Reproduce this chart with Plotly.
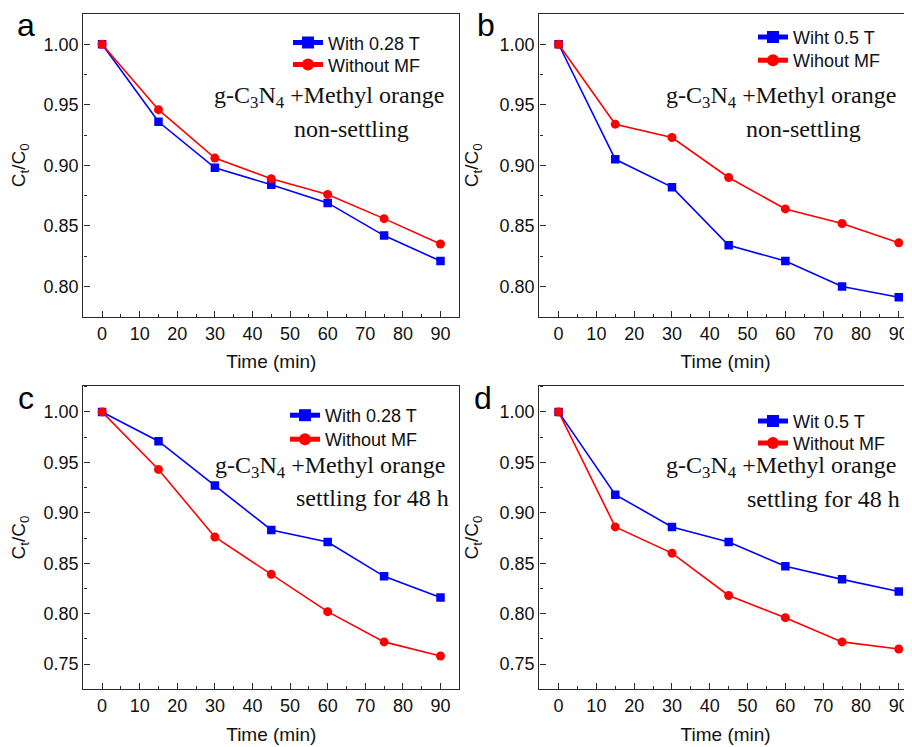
import plotly.graph_objects as go

# ---------------- data ----------------
time = [0, 15, 30, 45, 60, 75, 90]

a_with = [1.000, 0.936, 0.898, 0.884, 0.869, 0.842, 0.821]
a_without = [1.000, 0.946, 0.906, 0.889, 0.876, 0.856, 0.835]
b_with = [1.000, 0.905, 0.882, 0.834, 0.821, 0.800, 0.791]
b_without = [1.000, 0.934, 0.923, 0.890, 0.864, 0.852, 0.836]
c_with = [1.000, 0.971, 0.927, 0.883, 0.871, 0.837, 0.816]
c_without = [1.000, 0.943, 0.876, 0.839, 0.802, 0.772, 0.758]
d_with = [1.000, 0.918, 0.886, 0.871, 0.847, 0.834, 0.822]
d_without = [1.000, 0.886, 0.860, 0.818, 0.796, 0.772, 0.765]

labels_with = ["With 0.28 T", "Wiht 0.5 T", "With 0.28 T", "Wit 0.5 T"]
labels_without = ["Without MF", "Wihout MF", "Without MF", "Without MF"]
panel_letters = ["a", "b", "c", "d"]
title_line1 = "g-C<sub>3</sub>N<sub>4</sub> +Methyl orange"
title_line2 = ["non-settling", "non-settling", "settling for 48 h", "settling for 48 h"]
x_title = "Time (min)"
y_title = "C<sub>t</sub>/C<sub>0</sub>"

with_series = [a_with, b_with, c_with, d_with]
without_series = [a_without, b_without, c_without, d_without]

# ---------------- layout helpers ----------------
PAGE_W, PAGE_H = 912, 747
OFF = 8  # default page body margin
W, H = PAGE_W - OFF, PAGE_H - OFF
SANS = "Liberation Sans, Arial, sans-serif"
SERIF = "Liberation Serif, Times New Roman, serif"
AX = "#2a2a2a"


def px(x):
    return (x - OFF) / W


def py(y):
    return 1 - (y - OFF) / H


# plot boxes in page pixels: (left, top, right, bottom)
boxes = [
    (83.3, 14.0, 459.3, 316.7),
    (539.3, 14.0, 912.0, 316.7),
    (83.3, 385.7, 459.3, 689.3),
    (539.3, 385.7, 912.0, 689.3),
]
x_ranges = [[-5, 95], [-5.1, 93.5], [-5, 95], [-5.1, 93.5]]
y_ranges = [[0.775, 1.025], [0.775, 1.025], [0.725, 1.026], [0.725, 1.026]]
mirror_right = [True, False, True, False]

# legend rows: (text start x, row1 y, row2 y)
legend_pos = [(328, 42.3, 64.3), (793, 36.7, 60.0), (325, 415.0, 439.0), (793, 420.7, 442.7)]
# annotation lines: (center x, center y)
ann1_pos = [(329, 97), (781, 97), (330, 467), (781, 467)]
ann2_pos = [(351, 129), (803.5, 129), (372, 498), (823, 499)]
letter_pos = [(26, 25), (486, 25), (26, 398), (483, 398)]

fig = go.Figure()
layout = dict(
    width=W, height=H,
    margin=dict(l=0, r=0, t=0, b=0),
    paper_bgcolor="white", plot_bgcolor="white",
    font=dict(family=SANS, size=18, color="#111"),
    showlegend=True,
    annotations=[],
)

for i in range(4):
    n = "" if i == 0 else str(i + 1)
    xa, ya = "x" + n, "y" + n
    lg1 = "legend" if i == 0 else "legend" + str(2 * i + 1)
    lg2 = "legend" + str(2 * i + 2)
    fig.add_trace(go.Scatter(
        x=time, y=with_series[i], mode="lines+markers", name=labels_with[i],
        line=dict(color="#0000FF", width=1.6),
        marker=dict(symbol="square", size=8.5, color="#0000FF"),
        xaxis=xa, yaxis=ya, legend=lg1, showlegend=True,
    ))
    fig.add_trace(go.Scatter(
        x=time, y=without_series[i], mode="lines+markers", name=labels_without[i],
        line=dict(color="#FF0000", width=1.6),
        marker=dict(symbol="circle", size=9, color="#FF0000"),
        xaxis=xa, yaxis=ya, legend=lg2, showlegend=True,
    ))
    l, t, r, b = boxes[i]
    layout["xaxis" + n] = dict(
        domain=[px(l), px(r)], range=x_ranges[i], anchor=ya,
        tickmode="linear", tick0=0, dtick=10,
        ticks="inside", ticklen=6, tickwidth=1.2, tickcolor=AX,
        minor=dict(ticks="inside", ticklen=3, dtick=5, tick0=0, tickcolor=AX, showgrid=False),
        showline=True, linecolor=AX, linewidth=1.4, mirror=True,
        showgrid=False, zeroline=False,
        tickfont=dict(size=18, family=SANS, color="#111"),
        title=dict(text=x_title, font=dict(size=19, family=SANS, color="#111"), standoff=12),
    )
    layout["yaxis" + n] = dict(
        domain=[py(b), py(t)], range=y_ranges[i], anchor=xa,
        tickmode="linear", tick0=0, dtick=0.05, tickformat=".2f",
        ticks="inside", ticklen=6, tickwidth=1.2, tickcolor=AX,
        minor=dict(ticks="inside", ticklen=3, dtick=0.025, tick0=0, tickcolor=AX, showgrid=False),
        showline=True, linecolor=AX, linewidth=1.4, mirror=mirror_right[i],
        showgrid=False, zeroline=False,
        tickfont=dict(size=18, family=SANS, color="#111"),
        title=dict(text=y_title, font=dict(size=19, family=SANS, color="#111"), standoff=15),
    )
    tx, r1, r2 = legend_pos[i]
    for lg, ry in ((lg1, r1), (lg2, r2)):
        layout[lg] = dict(
            x=px(tx - 40), y=py(ry - 18), xanchor="left", yanchor="top",
            bgcolor="rgba(0,0,0,0)", borderwidth=0, visible=True,
            font=dict(size=18, family=SANS, color="#111"),
            itemsizing="constant",
        )
    cx, cy = ann1_pos[i]
    layout["annotations"].append(dict(
        text=title_line1, x=px(cx), y=py(cy), xref="paper", yref="paper",
        xanchor="center", yanchor="middle", showarrow=False,
        font=dict(family=SERIF, size=24, color="#111"),
    ))
    cx, cy = ann2_pos[i]
    layout["annotations"].append(dict(
        text=title_line2[i], x=px(cx), y=py(cy), xref="paper", yref="paper",
        xanchor="center", yanchor="middle", showarrow=False,
        font=dict(family=SERIF, size=24, color="#111"),
    ))
    cx, cy = letter_pos[i]
    layout["annotations"].append(dict(
        text=panel_letters[i], x=px(cx), y=py(cy), xref="paper", yref="paper",
        xanchor="center", yanchor="middle", showarrow=False,
        font=dict(family=SANS, size=32, color="#000"),
    ))

fig.update_layout(**layout)
fig.write_html("out.html")
